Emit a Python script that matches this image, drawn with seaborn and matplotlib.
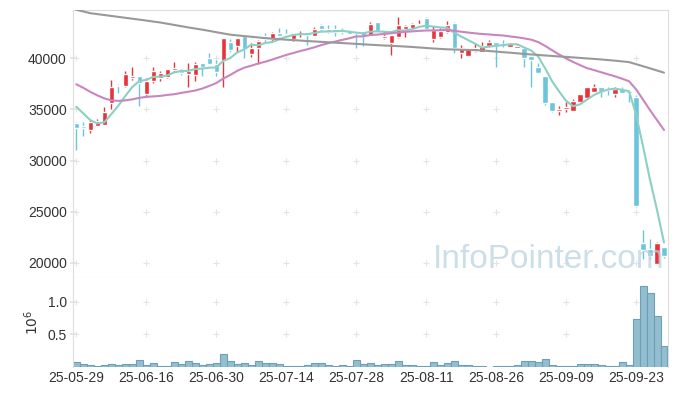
import numpy as np
import pandas as pd
import matplotlib
matplotlib.use("Agg")
import matplotlib.pyplot as plt
import seaborn as sns

# 거래일 (KRX 휴장일 제외)
holidays = ["2025-06-03", "2025-06-06", "2025-08-15"]
dates = pd.bdate_range("2025-05-29", "2025-09-29", freq="C", holidays=holidays)

open_ = [33700, 33350, 32970, 33400, 33500, 35650, 37400, 37310, 38040, 38270,
         36470, 37750, 38100, 38200, 38850, 38760, 38490, 38330, 39540, 40030,
         39440, 39760, 41570, 41230, 42160, 40450, 41040, 42160, 41860, 42450,
         42400, 41890, 42400, 42550, 42210, 43290, 42870, 42870, 42750, 42650,
         42650, 42650, 42210, 43530, 41960, 41530, 42060, 42870, 42940, 43200,
         43950, 41860, 42060, 42550, 43430, 40550, 40250, 40750, 40650, 41200,
         41570, 41400, 41140, 41040, 41040, 40230, 39180, 38270, 35750, 34860,
         35000, 34860, 35750, 36080, 36730, 37220, 36960, 36500, 36990, 36830,
         36180, 21930, 21380, 19910, 21600]
high = [33800, 33800, 33950, 34050, 35250, 37870, 37500, 38760, 39120, 38300,
        38040, 39120, 38760, 38950, 39610, 38900, 39510, 39670, 39560, 40550,
        39830, 42000, 41890, 42000, 42200, 41470, 41750, 42450, 42550, 42940,
        42850, 42500, 42700, 42560, 43050, 43350, 43250, 43250, 43000, 42800,
        42700, 42650, 43490, 43550, 42700, 42280, 44020, 43250, 43420, 43750,
        44000, 43100, 42950, 43650, 43500, 41300, 40980, 41470, 41630, 41800,
        41600, 41800, 41450, 41300, 41100, 40230, 39570, 38270, 35750, 35330,
        35750, 35990, 36500, 37220, 37500, 37220, 37220, 37220, 37220, 36830,
        36450, 23240, 22360, 22030, 21600]
low = [31000, 32400, 32710, 33350, 33450, 35000, 36650, 37160, 37870, 35350,
       36180, 37610, 37800, 38100, 38690, 38400, 37220, 37800, 38270, 39400,
       38270, 37220, 40590, 40590, 40000, 40160, 39440, 41470, 41600, 42100,
       42100, 41700, 42050, 41300, 42150, 42700, 42450, 42200, 42400, 42400,
       40980, 41240, 42210, 42650, 41900, 40320, 41960, 42120, 42900, 43150,
       42750, 41630, 41960, 42500, 40490, 40000, 40250, 40600, 40650, 41100,
       39120, 41100, 41100, 41000, 39180, 37220, 38530, 35400, 34780, 34440,
       34770, 34860, 35500, 36080, 36730, 36180, 36400, 36200, 36630, 35750,
       25450, 20400, 20400, 19910, 20450]
close = [33150, 33200, 33730, 33830, 34740, 37160, 37300, 38460, 38270, 37610,
         37780, 38760, 38530, 38920, 39050, 38530, 38760, 39440, 39180, 39440,
         38660, 41960, 40810, 41960, 40880, 40980, 41700, 41890, 42450, 42210,
         42250, 42450, 42470, 42310, 42870, 42870, 42550, 42550, 42550, 42400,
         42450, 42200, 43360, 42700, 42210, 42280, 43200, 43100, 43360, 43360,
         42870, 42770, 42700, 43200, 40980, 40980, 40980, 40980, 41200, 41570,
         41300, 41350, 41400, 41200, 40000, 39830, 38530, 35590, 34860, 35000,
         35260, 35850, 36500, 37220, 37220, 36830, 36900, 36990, 36630, 36570,
         25550, 21280, 20630, 21900, 20630]
volume = [77000, 46000, 31000, 15000, 31000, 46000, 31000, 46000, 46000, 107000,
          31000, 61000, 10000, 10000, 77000, 46000, 92000, 61000, 31000, 46000,
          61000, 199000, 92000, 46000, 61000, 31000, 92000, 61000, 61000, 46000,
          15000, 15000, 15000, 31000, 61000, 61000, 31000, 15000, 31000, 15000,
          107000, 51000, 61000, 31000, 46000, 46000, 92000, 31000, 31000, 15000,
          15000, 77000, 31000, 61000, 92000, 31000, 31000, 15000, 15000, 5000,
          10000, 10000, 10000, 31000, 92000, 92000, 77000, 122000, 31000, 15000,
          15000, 15000, 46000, 46000, 46000, 31000, 15000, 15000, 77000, 31000,
          735000, 1245000, 1132000, 781000, 327000]

# 화면 이전 19일 종가 (이동평균 계산용, 추정치)
pre_close = [40100, 41600, 40700, 40600, 41100, 38300, 37500, 36300, 34700, 35800,
             37800, 37600, 37000, 37700, 36000, 36450, 37030, 35430, 34240]

# 장기 이동평균선
ma_long = [44730, 44570, 44400, 44310, 44220, 44130, 44040, 43950, 43860, 43770,
           43680, 43580, 43490, 43370, 43250, 43130, 43010, 42900, 42790, 42670,
           42540, 42420, 42300, 42230, 42160, 42100, 42030, 41960, 41910, 41860,
           41810, 41770, 41725, 41680, 41640, 41600, 41560, 41520, 41480, 41440,
           41400, 41360, 41320, 41280, 41240, 41210, 41180, 41140, 41100, 41050,
           41000, 40950, 40910, 40870, 40850, 40830, 40810, 40790, 40760, 40700,
           40650, 40590, 40540, 40480, 40420, 40370, 40320, 40270, 40220, 40170,
           40130, 40080, 40030, 39980, 39930, 39880, 39820, 39760, 39690, 39620,
           39420, 39220, 39010, 38800, 38590]

assert len(dates) == len(close)

n = len(close)
idx = np.arange(n)
o = np.array(open_, float)
c = np.array(close, float)
hist = pd.Series(pre_close + close, dtype=float)
ma5 = hist.rolling(5).mean().to_numpy()[len(pre_close):]
ma20 = hist.rolling(20).mean().to_numpy()[len(pre_close):]

RED = "#e8333a"
BLUE = "#6cc5db"
GRID = "#e4e4e4"

sns.set_theme(style="white")
plt.rcParams["font.family"] = ["Liberation Sans", "DejaVu Sans"]

fig = plt.figure(figsize=(6.77, 3.96), dpi=100)
ax = fig.add_axes([0.108, 0.298, 0.879, 0.677])
ax2 = fig.add_axes([0.108, 0.073, 0.879, 0.225])

xt = np.arange(0, n, 10)
yt = [20000, 25000, 30000, 35000, 40000]

# 격자 교차점 (+)
gx, gy = np.meshgrid(xt, yt)
ax.scatter(gx.ravel(), gy.ravel(), marker="+", s=25, color=GRID, linewidths=0.8, zorder=0)

# 캔들
col = np.where(c >= o, RED, BLUE)
ax.vlines(idx, low, high, colors=col, linewidth=1, zorder=2)
body = np.maximum(np.abs(c - o), 70)
ax.bar(idx, body, bottom=np.minimum(o, c), width=0.74, color=col, zorder=3)

# 이동평균선
sns.lineplot(x=idx, y=ma5, ax=ax, color="#8ccfc4", linewidth=1.5, zorder=4)
sns.lineplot(x=idx, y=ma20, ax=ax, color="#c985c0", linewidth=1.5, zorder=4)
sns.lineplot(x=idx, y=ma_long, ax=ax, color="#999999", linewidth=1.5, zorder=4)

ax.set_xlim(-0.45, n - 0.4)
ax.set_ylim(18530, 44720)
ax.set_yticks(yt)
ax.set_yticklabels([str(v) for v in yt])
ax.set_xticks(xt)
ax.tick_params(axis="x", labelbottom=False, length=0)
ax.tick_params(axis="y", direction="inout", length=5, color=GRID, labelsize=10,
               labelcolor="#333333", pad=2, left=True)
ax.set_xlabel("")
ax.set_ylabel("")

# 거래량
vol = np.array(volume) / 1e6
gx2, gy2 = np.meshgrid(xt, [0.5, 1.0])
ax2.scatter(gx2.ravel(), gy2.ravel(), marker="+", s=25, color=GRID, linewidths=0.8, zorder=0)
sns.barplot(x=idx, y=vol, ax=ax2, native_scale=True, width=1.0, color="#93bed0",
            edgecolor="#6e9fb8", linewidth=0.8, saturation=1, zorder=2)
ax2.set_xlim(-0.45, n - 0.4)
ax2.set_ylim(0, 1.363)
ax2.set_yticks([0.5, 1.0])
ax2.set_yticklabels(["0.5", "1.0"])
ax2.set_xticks(xt)
ax2.set_xticklabels(dates[xt].strftime("%y-%m-%d"))
ax2.tick_params(axis="x", length=0, labelsize=10, labelcolor="#333333", pad=3)
ax2.tick_params(axis="y", direction="inout", length=5, color=GRID, labelsize=10,
                labelcolor="#333333", pad=2, left=True)
ax2.set_xlabel("")
ax2.set_ylabel("$10^6$", fontsize=10, color="#333333", labelpad=5)

for a in (ax, ax2):
    for s in a.spines.values():
        s.set_color("#dddddd")
        s.set_linewidth(0.8)
ax2.spines["bottom"].set_visible(False)
ax2.spines["top"].set_visible(False)

fig.text(0.982, 0.323, "InfoPointer.com", ha="right", va="baseline", fontsize=24,
         color="#bcd3df", alpha=0.75, zorder=10)

fig.savefig("out.png", dpi=100, facecolor="white")
